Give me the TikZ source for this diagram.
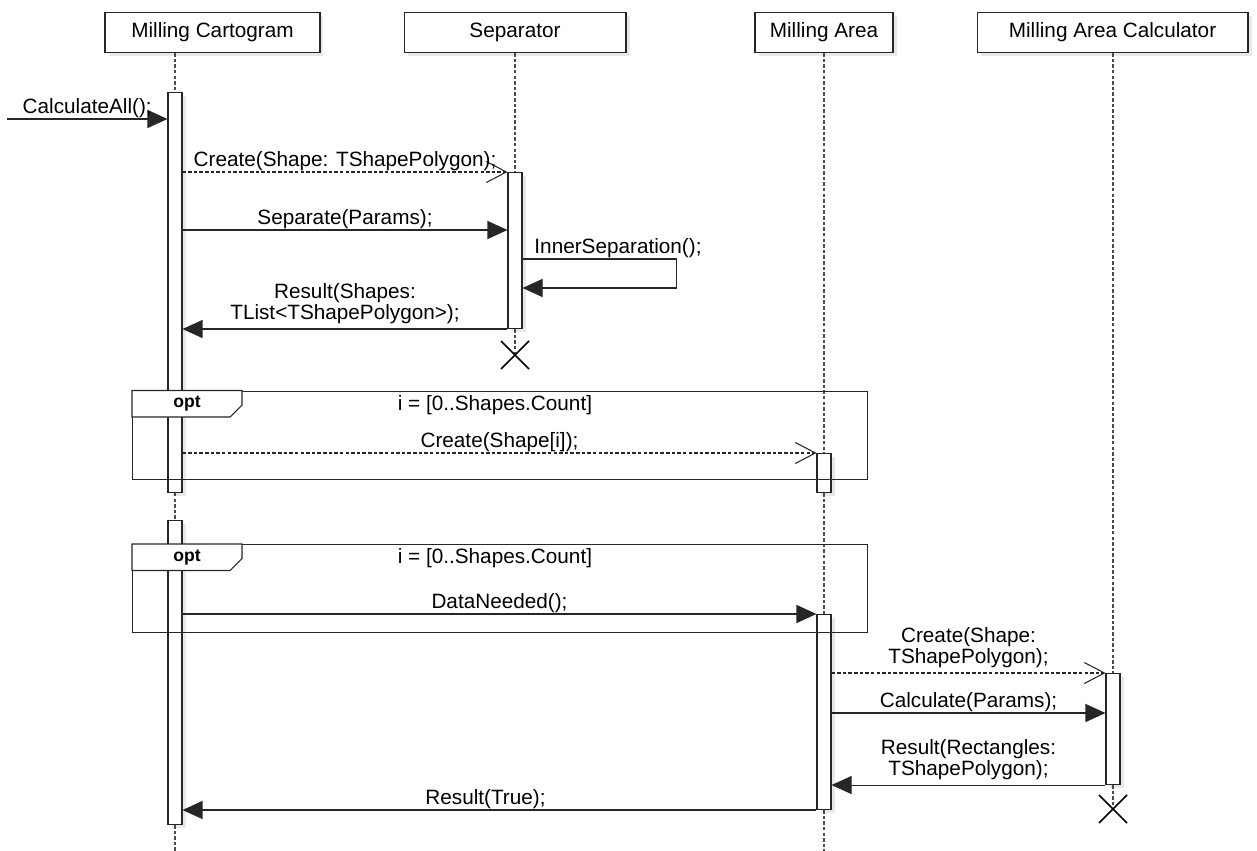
\documentclass[tikz,border=0pt]{standalone}
\usepackage{fontspec}
\setmainfont{Liberation Sans}
\usetikzlibrary{arrows.meta,positioning,shadows}

\begin{document}
\begin{tikzpicture}[x=0.02cm, y=-0.02cm,
    font=\fontsize{11.8}{12.3}\selectfont,
    every node/.style={inner sep=0.5pt},
    softshadow/.style={drop shadow={shadow xshift=2pt, shadow yshift=-2pt, opacity=0.18}},
    object/.style={draw=black!85, fill=white, line width=0.6pt, minimum height=0.8cm, softshadow},
    lifeline/.style={draw=black!70, line width=0.6pt, dash pattern=on 2pt off 1.2pt},
    activation/.style={draw=black!85, fill=white, line width=0.6pt, minimum width=0.28cm,
      anchor=north, inner sep=0pt, softshadow},
    call/.style={draw=black!85, line width=0.6pt, -{Triangle[length=0.4cm, width=0.36cm]}},
    create/.style={draw=black!85, line width=0.6pt, dash pattern=on 2pt off 1.2pt,
      -{Straight Barb[length=0.4cm, width=0.42cm]}},
    frame/.style={draw=black!85, line width=0.6pt, anchor=north west, minimum width=14.7cm},
    destroy/.style={draw=black, line width=0.9pt}]
  \useasboundingbox (0,0) rectangle (1257,851);

  % objects
  \node[object, minimum width=4.3cm] (mc) at (212.5,32.5) {Milling Cartogram};
  \node[object, minimum width=4.44cm] (sep) at (515,32.5) {Separator};
  \node[object, minimum width=2.76cm] (ma) at (824,32.5) {Milling Area};
  \node[object, minimum width=5.42cm] (mac) at (1112.5,32.5) {Milling Area Calculator};

  % activation bars
  \node[activation, minimum height=8cm] (mcA) at (175,92) {};
  \node[activation, minimum height=6.08cm] (mcB) at (175,520) {};
  \node[activation, minimum height=3.12cm] (sepA) at (515,172) {};
  \node[activation, minimum height=0.78cm] (maA) at (824,453) {};
  \node[activation, minimum height=3.9cm] (maB) at (824,614) {};
  \node[activation, minimum height=2.22cm] (macA) at (1113,673) {};

  \coordinate (start) at (7,119);
  \coordinate (rowSep) at (0,230);
  \coordinate (rowInnerA) at (0,259);
  \coordinate (rowInnerB) at (0,288);
  \coordinate (rowCalc) at (0,713);
  \coordinate (sepX) at (515,355);
  \coordinate (macX) at (1113,809);

  % lifelines
  \draw[lifeline] (mc.south -| mcA) -- (mcA.north);
  \draw[lifeline] (mcA.south) -- (mcB.north);
  \draw[lifeline] (mcB.south) -- ++(0,27);
  \draw[lifeline] (sep.south) -- (sepA.north);
  \draw[lifeline] (sepA.south) -- (sepX);
  \draw[lifeline] (ma.south) -- (maA.north);
  \draw[lifeline] (maA.south) -- (maB.north);
  \draw[lifeline] (maB.south) -- ++(0,42);
  \draw[lifeline] (mac.south -| macA) -- (macA.north);
  \draw[lifeline] (macA.south) -- (macX);

  % combined fragments
  \node[frame, minimum height=1.77cm] (opt1) at (132,390.5) {};
  \node[frame, minimum height=1.76cm] (opt2) at (132,544) {};
  \foreach \f in {opt1,opt2} {
    \draw[draw=black!85, line width=0.6pt, fill=white] (\f.north west) -- ++(110,0) -- ++(0,14.5)
      -- ++(-12,12) -- ++(-98,0) -- cycle;
    \path (\f.north west) ++(55,13.5) node[font=\bfseries\fontsize{10}{11}\selectfont] {opt};
    \node[below=2pt, xshift=-0.1cm] at (\f.north) {i = [0..Shapes.Count]};
  }

  % messages
  \draw[call] (start) -- node[above] {CalculateAll();} (mcA.west |- start);
  \draw[create] (mcA.east |- sepA.north) -- node[above] {Create(Shape: TShapePolygon);} (sepA.north west);
  \draw[call] (mcA.east |- rowSep) -- node[above] {Separate(Params);} (sepA.west |- rowSep);
  \draw[call] (sepA.east |- rowInnerA) -- node[above, pos=0.62] {InnerSeparation();} ++(154,0)
    |- (sepA.east |- rowInnerB);
  \draw[call] (sepA.south west) -- node[above=2pt, align=center] {Result(Shapes:\\TList<TShapePolygon>);}
    (mcA.east |- sepA.south);
  \draw[create] (mcA.east |- maA.north) -- node[above] {Create(Shape[i]);} (maA.north west);
  \draw[call] (mcB.east |- maB.north) -- node[above] {DataNeeded();} (maB.north west);
  \draw[create] (maB.east |- macA.north) -- node[above=2pt, align=center] {Create(Shape:\\TShapePolygon);}
    (macA.north west);
  \draw[call] (maB.east |- rowCalc) -- node[above] {Calculate(Params);} (macA.west |- rowCalc);
  \draw[call] (macA.south west) -- node[above=2pt, align=center] {Result(Rectangles:\\TShapePolygon);}
    (maB.east |- macA.south);
  \draw[call] (maB.south west) -- node[above, xshift=-0.28cm] {Result(True);} (mcB.east |- maB.south);

  % destruction
  \draw[destroy] (sepX) +(-14,-14) -- +(14,14) +(-14,14) -- +(14,-14);
  \draw[destroy] (macX) +(-14,-14) -- +(14,14) +(-14,14) -- +(14,-14);
\end{tikzpicture}
\end{document}
